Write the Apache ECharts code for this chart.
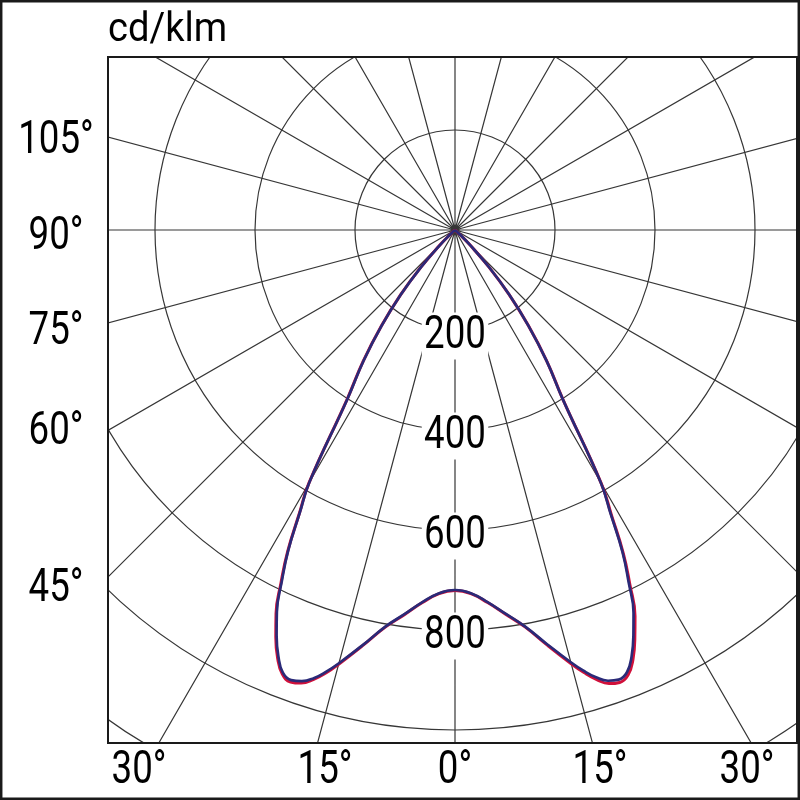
<!DOCTYPE html>
<html>
<head>
<meta charset="utf-8">
<script src="https://cdn.jsdelivr.net/npm/echarts@6/dist/echarts.min.js"></script>
<style>
html,body{margin:0;padding:0;background:#fff;}
#chart{width:800px;height:800px;}
</style>
</head>
<body>
<div id="chart"></div>
<script>
// ---- data (cd/klm) ----
const GAMMA = [0, 2.5, 5, 7.5, 10, 12.5, 15, 16.25, 17.5, 18.75, 20, 21.25, 22.5, 23.75, 25, 26.25, 27.5, 28.75, 30, 32.5, 35, 37.5, 40, 42.5, 45, 47.5, 50, 55, 60];
const C0   = [721, 728, 748, 775, 806, 850, 898, 922, 943, 958, 963, 955, 930, 893, 852, 791, 729, 651, 585, 402, 320, 241, 168, 100, 42, 12, 3, 0, 0];
const C180 = [721, 728, 748, 776, 807, 851, 899, 923, 943, 957, 962, 953, 927, 890, 847, 787, 725, 648, 584, 402, 320, 242, 170, 102, 44, 13, 3, 0, 0];
const C90  = [720, 727, 747, 774, 805, 848, 895, 918, 938, 952, 957, 949, 923, 886, 845, 785, 725, 647, 583, 401, 319, 241, 169, 101, 43, 12, 3, 0, 0];
const C270 = [720, 727, 747, 775, 806, 850, 897, 920, 940, 953, 958, 950, 923, 886, 843, 783, 722, 646, 582, 400, 318, 240, 168, 100, 42, 12, 3, 0, 0];
const RADIUS_TICKS = [200, 400, 600, 800];
const LEFT_LABELS = ['105°', '90°', '75°', '60°', '45°'];
const BOTTOM_LABELS = ['30°', '15°', '0°', '15°', '30°'];
const UNIT = 'cd/klm';

// ---- layout / style ----
const L = {
  center: [455, 230], radiusPx: 700, rMax: 1400, rStep: 200, aStep: 15,
  plot: { x: 108, y: 57, w: 689, h: 686 },
  leftLabelX: 56, leftLabelY: [141, 237, 332, 432, 589],
  bottomLabelY: 771, bottomLabelX: [139, 325, 455, 600, 747],
  unitX: 108, unitY: 31, radLabelDy: 6
};
const NUM_FONT = "47px Roboto, sans-serif";
const NUM_SCALE = 0.78;
const GRID = '#363636';
const RED = '#d0103a';
const BLUE = '#2a2a78';

function loop(right, left) {
  const pts = [];
  for (let i = GAMMA.length - 1; i >= 0; i--) pts.push([right[i], 360 - GAMMA[i]]);
  for (let i = 1; i < GAMMA.length; i++) pts.push([left[i], GAMMA[i]]);
  return pts;
}

const chart = echarts.init(document.getElementById('chart'));
chart.setOption({
  animation: false,
  backgroundColor: '#fff',
  polar: { center: L.center, radius: L.radiusPx },
  angleAxis: {
    type: 'value', min: 0, max: 360, interval: L.aStep, startAngle: 270, clockwise: true,
    axisLine: { show: false }, axisTick: { show: false }, axisLabel: { show: false },
    splitLine: { show: true, lineStyle: { color: GRID, width: 1.2 } }, z: 1
  },
  radiusAxis: {
    type: 'value', min: 0, max: L.rMax, interval: L.rStep,
    axisLine: { show: false }, axisTick: { show: false }, axisLabel: { show: false },
    splitLine: { show: true, lineStyle: { color: GRID, width: 1.2 } },
    z: 2
  },
  series: [
    { name: 'C0-C180', type: 'line', coordinateSystem: 'polar', data: loop(C0, C180), smooth: 0.45,
      showSymbol: false, lineStyle: { color: RED, width: 3 }, z: 3 },
    { name: 'C90-C270', type: 'line', coordinateSystem: 'polar', data: loop(C90, C270), smooth: 0.45,
      showSymbol: false, lineStyle: { color: BLUE, width: 2.7 }, z: 4 }
  ]
});

const p = L.plot;
const masks = [
  { x: 0, y: 0, width: 800, height: p.y },
  { x: 0, y: 0, width: p.x, height: 800 },
  { x: 0, y: p.y + p.h, width: 800, height: 800 - p.y - p.h },
  { x: p.x + p.w, y: 0, width: 800 - p.x - p.w, height: 800 }
].map(s => ({ type: 'rect', shape: s, style: { fill: '#fff' }, z: 100, silent: true }));

const frames = [
  { type: 'rect', shape: { x: 1.2, y: 1.2, width: 797.6, height: 797.6 }, style: { fill: 'none', stroke: '#1a1a1a', lineWidth: 2.5 }, z: 101 },
  { type: 'rect', shape: { x: p.x, y: p.y, width: p.w, height: p.h }, style: { fill: 'none', stroke: '#1a1a1a', lineWidth: 2 }, z: 101 }
];

const texts = [];
texts.push({ type: 'text', x: L.unitX, y: L.unitY, z: 102, scaleX: 0.93,
  style: { text: UNIT, font: "41px Roboto, sans-serif", fill: '#000', textAlign: 'left', textVerticalAlign: 'middle' } });
LEFT_LABELS.forEach((t, i) => texts.push({ type: 'text', x: L.leftLabelX, y: L.leftLabelY[i], z: 102, scaleX: NUM_SCALE,
  style: { text: t, font: NUM_FONT, fill: '#000', textAlign: 'center', textVerticalAlign: 'middle' } }));
BOTTOM_LABELS.forEach((t, i) => texts.push({ type: 'text', x: L.bottomLabelX[i], y: L.bottomLabelY, z: 102, scaleX: NUM_SCALE,
  style: { text: t, font: NUM_FONT, fill: '#000', textAlign: 'center', textVerticalAlign: 'middle' } }));
// radius tick labels placed through the polar scale along the 0° spoke
RADIUS_TICKS.forEach(v => {
  const pt = chart.convertToPixel({ seriesIndex: 0 }, [v, 0]);
  texts.push({ type: 'text', x: pt[0], y: pt[1] + L.radLabelDy, z: 50, scaleX: NUM_SCALE,
    style: { text: String(v), font: NUM_FONT, fill: '#000', textAlign: 'center', textVerticalAlign: 'middle',
      backgroundColor: '#fff', padding: [0, 3] } });
});

chart.setOption({ graphic: { elements: masks.concat(frames, texts) } });
</script>
</body>
</html>
